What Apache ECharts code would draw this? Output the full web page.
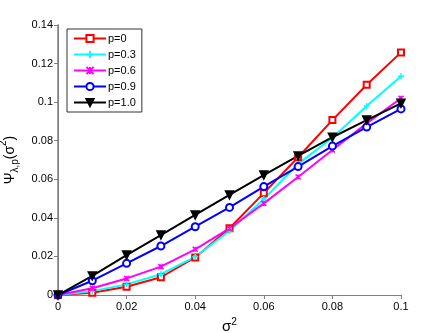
<!DOCTYPE html>
<html>
<head>
<meta charset="utf-8">
<script src="https://cdn.jsdelivr.net/npm/echarts@6/dist/echarts.min.js"></script>
<style>
  html, body { margin: 0; padding: 0; background: #fff; }
  #chart { width: 443px; height: 333px; }
</style>
</head>
<body>
<div id="chart"></div>
<script>
var sigma2 = [0, 0.01, 0.02, 0.03, 0.04, 0.05, 0.06, 0.07, 0.08, 0.09, 0.1];
var p0 = [0, 0.0012, 0.0043, 0.0092, 0.0195, 0.0346, 0.0528, 0.0714, 0.0907, 0.1090, 0.1258];
var p03 = [0, 0.0020, 0.0055, 0.0108, 0.0198, 0.0332, 0.0498, 0.0680, 0.0815, 0.0980, 0.1134];
var p06 = [0, 0.0035, 0.0086, 0.0147, 0.0237, 0.0345, 0.0475, 0.0612, 0.0752, 0.0890, 0.1020];
var p09 = [0, 0.0074, 0.0164, 0.0254, 0.0354, 0.0454, 0.0562, 0.0666, 0.0772, 0.0871, 0.0965];
var p10 = [0, 0.0099, 0.0207, 0.0311, 0.0415, 0.0519, 0.0622, 0.0721, 0.0818, 0.0907, 0.0994];
var seriesNames = ["p=0", "p=0.3", "p=0.6", "p=0.9", "p=1.0"];

var FONT = "Liberation Sans, Arial, sans-serif";

function pairs(ys) {
    return sigma2.map(function (x, i) { return [x, ys[i]]; });
}

function makeSeries(name, ys, color, symbol, size, opts) {
    var s = {
        name: name,
        type: "line",
        data: pairs(ys),
        clip: false,
        symbol: symbol,
        symbolSize: size,
        lineStyle: { color: color, width: 2 },
        itemStyle: { color: color, borderColor: color, borderWidth: 1.5 },
        emphasis: { disabled: true },
        animation: false
    };
    for (var k in opts) s[k] = opts[k];
    return s;
}

var chart = echarts.init(document.getElementById("chart"));
chart.setOption({
    backgroundColor: "#fff",
    textStyle: { fontFamily: FONT },
    grid: { left: 58, right: 42, top: 25, bottom: 38, outerBoundsMode: "none", containLabel: false },
    legend: {
        orient: "vertical",
        left: 67,
        top: 29,
        itemWidth: 32,
        itemHeight: 9,
        itemGap: 5,
        padding: [4, 6, 4, 6],
        borderColor: "#333",
        borderWidth: 1,
        backgroundColor: "#fff",
        textStyle: { fontFamily: FONT, fontSize: 11, color: "#000", padding: [0, 0, 0, -3] },
        data: seriesNames
    },
    xAxis: [{
        type: "value",
        min: 0,
        max: 0.1,
        interval: 0.02,
        name: "σ{sup|2}",
        nameLocation: "middle",
        nameGap: 21,
        nameTextStyle: {
            fontFamily: FONT, fontSize: 15, color: "#000", lineHeight: 20,
            rich: { sup: { fontSize: 10, verticalAlign: "top", lineHeight: 20 } }
        },
        axisLine: { lineStyle: { color: "#000", width: 1 } },
        axisTick: { show: false },
        axisLabel: { fontFamily: FONT, fontSize: 11, color: "#000", margin: 6 },
        splitLine: { show: false }
    }, {
        type: "value",
        position: "top",
        min: 0,
        max: 0.1,
        interval: 0.02,
        axisLine: { show: true, lineStyle: { color: "#808080", width: 1 } },
        axisTick: { show: true, inside: true, length: 4, lineStyle: { color: "#808080" } },
        axisLabel: { show: false },
        splitLine: { show: false }
    }],
    yAxis: [{
        type: "value",
        min: 0,
        max: 0.14,
        interval: 0.02,
        name: "Ψ{sub|λ,p}(σ{sup|2})",
        nameLocation: "middle",
        nameGap: 31,
        nameRotate: 90,
        nameTextStyle: {
            fontFamily: FONT, fontSize: 14, color: "#000", lineHeight: 22,
            rich: {
                sub: { fontSize: 10, verticalAlign: "bottom", lineHeight: 22 },
                sup: { fontSize: 10, verticalAlign: "top", lineHeight: 22 }
            }
        },
        axisLine: { show: true, lineStyle: { color: "#808080", width: 1.5 } },
        axisTick: { show: true, inside: false, length: 3, lineStyle: { color: "#808080" } },
        axisLabel: { fontFamily: FONT, fontSize: 11, color: "#000", margin: 5 },
        splitLine: { show: false }
    }, {
        type: "value",
        position: "right",
        min: 0,
        max: 0.14,
        interval: 0.02,
        axisLine: { show: true, lineStyle: { color: "#808080", width: 1 } },
        axisTick: { show: true, inside: true, length: 4, lineStyle: { color: "#808080" } },
        axisLabel: { show: false },
        splitLine: { show: false }
    }],
    series: [
        makeSeries(seriesNames[0], p0, "#ff0000", "emptyRect", 6),
        makeSeries(seriesNames[1], p03, "#00ffff", "path://M5,0L5,10M0,5L10,5", 6, {}),
        makeSeries(seriesNames[2], p06, "#ff00ff", "path://M0,0L10,10M10,0L0,10M5,0L5,10", 5, {}),
        makeSeries(seriesNames[3], p09, "#0000ff", "emptyCircle", 7),
        makeSeries(seriesNames[4], p10, "#000000", "triangle", 8, { symbolRotate: 180 })
    ]
});
</script>
</body>
</html>
